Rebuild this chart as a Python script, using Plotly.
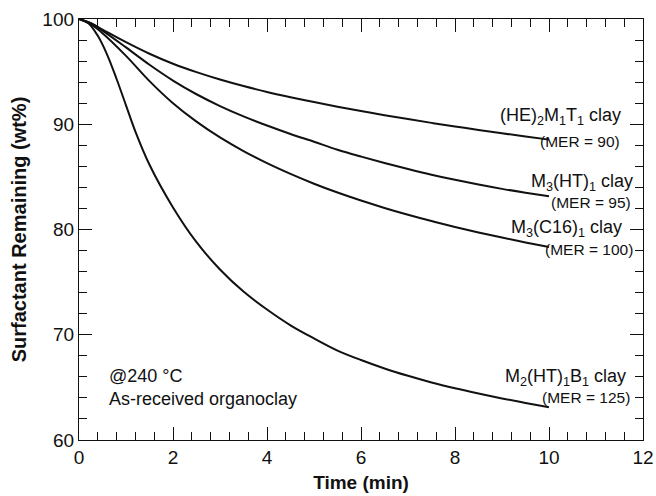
import plotly.graph_objects as go

# Isothermal TGA at 240 °C: surfactant remaining vs time for four organoclays
time_min = [0, 0.25, 0.5, 1, 1.5, 2, 2.5, 3, 3.5, 4, 4.5, 5, 5.5, 6, 6.5, 7, 7.5, 8, 8.5,
            9, 9.5, 10]
he2m1t1 = [100, 99.6, 99.0, 97.8, 96.7, 95.75, 94.95, 94.25, 93.63, 93.07, 92.57, 92.11,
           91.67, 91.26, 90.86, 90.49, 90.13, 89.79, 89.46, 89.14, 88.84, 88.54]
m3ht1 = [100, 99.6, 98.9, 97.3, 95.65, 94.15, 92.85, 91.73, 90.75, 89.88, 89.08, 88.34,
         87.58, 86.93, 86.32, 85.75, 85.21, 84.72, 84.27, 83.86, 83.5, 83.17]
m3c16 = [100, 99.5, 98.65, 96.5, 94.1, 92.0, 90.25, 88.75, 87.45, 86.3, 85.28, 84.35, 83.51,
         82.75, 82.05, 81.4, 80.8, 80.24, 79.72, 79.23, 78.77, 78.33]

time_b1 = [0, 0.2, 0.4, 0.6, 0.8, 1.0, 1.2, 1.5, 2, 2.5, 3, 3.5, 4, 4.5, 5, 5.5, 6, 6.5,
           7, 7.5, 8, 8.5, 9, 9.5, 10]
m2ht1b1 = [100, 99.6, 98.4, 96.6, 94.3, 91.8, 89.3, 86.15, 82.1, 78.8, 76.2, 74.1, 72.4,
           70.9, 69.65, 68.5, 67.6, 66.8, 66.1, 65.47, 64.92, 64.42, 63.95, 63.52, 63.12]

# Curve labels: (name, MER text, x of name's right edge, x of MER's right edge, y of name, y of MER)
labels = [
    ("(HE)<sub>2</sub>M<sub>1</sub>T<sub>1</sub> clay", "(MER = 90)", 11.57, 11.55, 90.7, 88.4),
    ("M<sub>3</sub>(HT)<sub>1</sub> clay", "(MER = 95)", 11.83, 11.79, 84.5, 82.6),
    ("M<sub>3</sub>(C16)<sub>1</sub> clay", "(MER = 100)", 11.60, 11.83, 80.1, 78.1),
    ("M<sub>2</sub>(HT)<sub>1</sub>B<sub>1</sub> clay", "(MER = 125)", 11.68, 11.77, 65.9, 64.0),
]

ink = "#111111"
font_family = "Liberation Sans, Arial, sans-serif"

fig = go.Figure()
for xs, ys in [(time_min, he2m1t1), (time_min, m3ht1), (time_min, m3c16), (time_b1, m2ht1b1)]:
    fig.add_trace(go.Scatter(x=xs, y=ys, mode="lines",
                             line=dict(color=ink, width=2, shape="spline", smoothing=1.0),
                             showlegend=False, hoverinfo="skip"))

annotations = []
for name, mer, xn, xm, yn, ym in labels:
    annotations.append(dict(x=xn, y=yn, xref="x", yref="y", text=name, showarrow=False,
                            xanchor="right", yanchor="middle",
                            font=dict(size=18, color=ink, family=font_family)))
    annotations.append(dict(x=xm, y=ym, xref="x", yref="y", text=mer, showarrow=False,
                            xanchor="right", yanchor="middle",
                            font=dict(size=15.5, color=ink, family=font_family)))

annotations.append(dict(x=0.6, y=66.1, xref="x", yref="y", text="@240 °C", showarrow=False,
                        xanchor="left", yanchor="middle",
                        font=dict(size=18, color=ink, family=font_family)))
annotations.append(dict(x=0.6, y=63.9, xref="x", yref="y", text="As-received organoclay",
                        showarrow=False, xanchor="left", yanchor="middle",
                        font=dict(size=18, color=ink, family=font_family)))

axis_common = dict(showline=True, linecolor=ink, linewidth=1.3, mirror="allticks",
                   ticks="inside", ticklen=13, tickwidth=1.3, tickcolor=ink,
                   showgrid=False, zeroline=False, automargin=False,
                   tickfont=dict(size=19, color=ink, family=font_family))

fig.update_layout(
    width=656, height=496,
    margin=dict(l=79, r=13, t=19, b=56),
    paper_bgcolor="white", plot_bgcolor="white",
    annotations=annotations,
    xaxis=dict(range=[0, 12], tick0=0, dtick=2,
               minor=dict(tick0=0, dtick=0.4, ticks="inside", ticklen=8, tickwidth=1.3,
                          tickcolor=ink, showgrid=False),
               title=dict(text="<b>Time (min)</b>", standoff=8,
                          font=dict(size=19, color=ink, family=font_family)),
               **axis_common),
    yaxis=dict(range=[60, 100], tick0=60, dtick=10,
               minor=dict(tick0=60, dtick=2, ticks="inside", ticklen=8, tickwidth=1.3,
                          tickcolor=ink, showgrid=False),
               title=dict(text="<b>Surfactant Remaining (wt%)</b>", standoff=10,
                          font=dict(size=20, color=ink, family=font_family)),
               **axis_common),
)

fig.write_html("out.html")
